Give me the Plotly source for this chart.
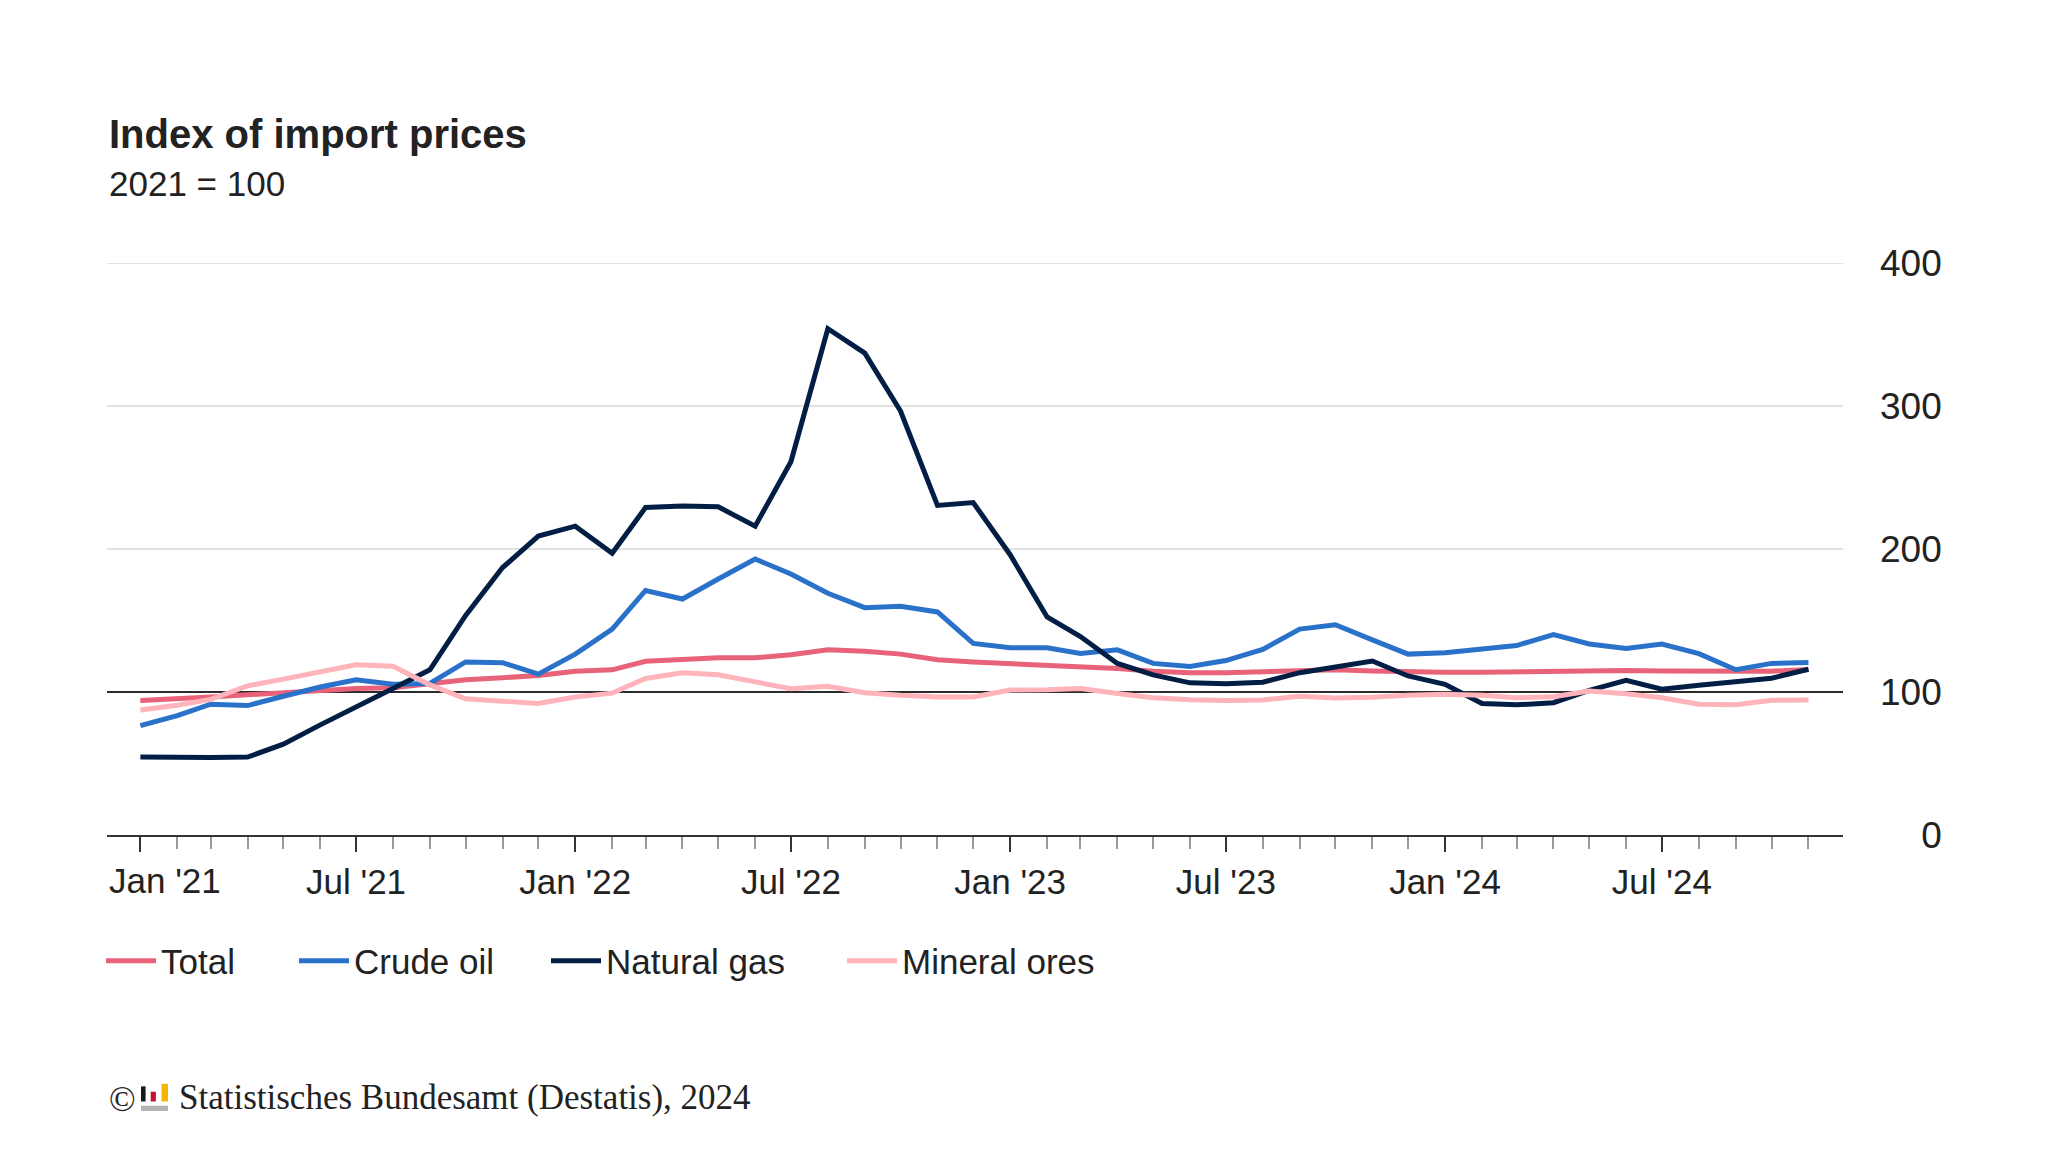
import pandas as pd
import plotly.graph_objects as go

# monthly index values, 2021 = 100 (Jan 2021 - Nov 2024)
months = pd.date_range("2021-01-01", "2024-11-01", freq="MS")

total = [94, 95, 96.5, 98, 99.5, 101, 102.5, 103, 105.5, 108.5, 110, 111.5,
         114.5, 115.5, 121.5, 123, 124, 124, 126, 129.5, 128.5, 126.5, 122.5, 121,
         120, 118.8, 117.8, 116.5, 114.5, 113.5, 113.5, 114, 115.2, 115.5, 114.6, 113.8,
         113.8, 113.8, 114.2, 114.7, 114.7, 115, 114.7, 114.5, 114.2, 114.5, 115.8]
crude_oil = [76.5, 83.5, 91.5, 90.5, 97, 103.5, 108.5, 105.5, 106, 121, 120.5, 112.5,
             126.5, 144, 171, 165, 179, 193, 182.5, 169, 159, 160, 156, 134,
             131, 131, 127, 129.5, 120, 117.8, 122, 129.8, 144, 147, 136.5, 126.5,
             127.5, 129.8, 132.5, 140.2, 133.6, 130.5, 133.5, 126.8, 115.6, 120, 120.6]
natural_gas = [54.5, 54, 54.2, 54.5, 63.5, 77, 90, 102.5, 115.5, 153.5, 187, 209,
               216, 197, 229, 230, 229.5, 216, 261, 354, 337, 296.5, 230.5, 232.5,
               196, 152.5, 138.8, 120, 112, 106.4, 105.7, 106.8, 113.5, 117.7, 121.7, 111.2,
               105.4, 92, 91, 92.5, 101.2, 108.2, 102, 104.7, 107.2, 109.6, 115.9]
mineral_ores = [87.4, 90.8, 94.8, 104.3, 109, 114.5, 119, 118, 105, 95.2, 94, 92,
                96.5, 99.2, 109.5, 113.5, 112, 107, 102.3, 104, 99.5, 97.7, 96.5, 96.5,
                101.4, 101.6, 102.5, 99, 96, 94.6, 94, 94.4, 97, 95.8, 96.3, 97.7,
                98.4, 97.7, 96, 96.7, 100.7, 98.8, 96, 91.4, 91.1, 94.2, 94.4]

series_names = ["Total", "Crude oil", "Natural gas", "Mineral ores"]
series_colors = ["#E8637A", "#2A72C9", "#031E44", "#FFB3BA"]

x_tick_dates = pd.date_range("2021-01-01", "2024-07-01", freq="6MS")
x_tick_labels = ["Jan '21", "Jul '21", "Jan '22", "Jul '22",
                 "Jan '23", "Jul '23", "Jan '24", "Jul '24"]

y_ticks = [0, 100, 200, 300, 400]
y_ticktext = ["\u2007\u20070", "100", "200", "300", "400"]
base_value = 100

W, H = 2048, 1152
# plot area in pixels
L, R, T, B = 99, 1835, 255, 827

FONT = "Liberation Sans, Arial, sans-serif"
SERIF = "Liberation Serif, Times New Roman, serif"
TXT = "#222222"


def px(x):
    return (x - L) / (R - L)


def py(y):
    return (B - y) / (B - T)


# each legend entry gets its own legend box so the spacing can follow the original
legend_left_px = [93, 286, 538, 834]
legend_ids = ["legend", "legend2", "legend3", "legend4"]

fig = go.Figure()
for name, vals, col, lid in zip(series_names,
                                [total, crude_oil, natural_gas, mineral_ores],
                                series_colors, legend_ids):
    fig.add_trace(go.Scatter(x=months, y=vals, name=name, mode="lines",
                             line=dict(color=col, width=5), legend=lid))

# gridlines drawn as shapes so the 100 line can be dark and sit under the data
for v in y_ticks[1:]:
    fig.add_shape(type="line", xref="x domain", yref="y", x0=0, x1=1, y0=v, y1=v,
                  layer="below",
                  line=dict(color="#2b2b2b" if v == base_value else "#d9d9d9",
                            width=2.2 if v == base_value else 1.5))

legends = {}
for lid, lx in zip(legend_ids, legend_left_px):
    legends[lid] = dict(orientation="h", x=px(lx), xanchor="left", y=py(953),
                        yanchor="middle", font=dict(size=35, color=TXT),
                        itemwidth=50, bgcolor="rgba(0,0,0,0)")

fig.update_layout(
    width=W, height=H,
    margin=dict(l=L, r=W - R, t=T, b=H - B),
    paper_bgcolor="white", plot_bgcolor="white",
    font=dict(family=FONT, size=35, color=TXT),
    showlegend=True,
    **legends,
)

# first label sits flush with the left edge, so it is placed separately
fig.update_xaxes(
    type="date",
    range=["2020-12-04", "2024-11-30"],
    tickmode="array", tickvals=x_tick_dates,
    ticktext=[""] + x_tick_labels[1:],
    ticks="outside", ticklen=15, tickwidth=2, tickcolor="#333333",
    showline=True, linecolor="#333333", linewidth=2,
    showgrid=False, zeroline=False,
    tickfont=dict(size=35, color=TXT),
    minor=dict(dtick="M1", tick0="2021-01-01", ticks="outside", ticklen=12,
               tickwidth=1.5, tickcolor="#999999", showgrid=False),
)
fig.add_annotation(text=x_tick_labels[0], xref="paper", yref="paper",
                   x=0, y=py(872), xanchor="left", yanchor="middle",
                   showarrow=False, font=dict(size=35, color=TXT))

fig.update_yaxes(
    side="right", range=[0, 400],
    tickvals=y_ticks, ticktext=y_ticktext,
    showgrid=False, zeroline=False, showline=False, ticks="",
    ticklabelstandoff=36,
    tickfont=dict(size=37, color=TXT),
)

# title and subtitle
fig.add_annotation(text="<b>Index of import prices</b>", xref="paper", yref="paper",
                   x=0, y=py(126), xanchor="left", yanchor="middle",
                   showarrow=False, font=dict(size=40, color=TXT))
fig.add_annotation(text="2021 = 100", xref="paper", yref="paper",
                   x=0, y=py(175), xanchor="left", yanchor="middle",
                   showarrow=False, font=dict(size=35, color=TXT))

# source line
fig.add_annotation(text="©", xref="paper", yref="paper",
                   x=0, y=py(1091), xanchor="left", yanchor="middle",
                   showarrow=False, font=dict(family=SERIF, size=35, color=TXT))
fig.add_annotation(text="Statistisches Bundesamt (Destatis), 2024",
                   xref="paper", yref="paper", x=px(169), y=py(1089),
                   xanchor="left", yanchor="middle", showarrow=False,
                   font=dict(family=SERIF, size=35, color=TXT))

# little Destatis logo
lx0, lx1, ly0, ly1 = 133, 160, 1075, 1103
lw, lh = lx1 - lx0, ly1 - ly0
logo_parts = [
    (0.0, 0.17, 0.12, 0.66, "#1a1a1a"),
    (0.36, 0.55, 0.31, 0.66, "#c8102e"),
    (0.76, 1.0, 0.03, 0.66, "#f5b400"),
    (0.0, 1.0, 0.81, 1.0, "#b3b3b3"),
]
for a, b, c, d, col in logo_parts:
    fig.add_shape(type="rect", xref="paper", yref="paper",
                  x0=px(lx0 + a * lw), x1=px(lx0 + b * lw),
                  y0=py(ly0 + d * lh), y1=py(ly0 + c * lh),
                  fillcolor=col, line=dict(width=0))

fig.write_html("out.html")
